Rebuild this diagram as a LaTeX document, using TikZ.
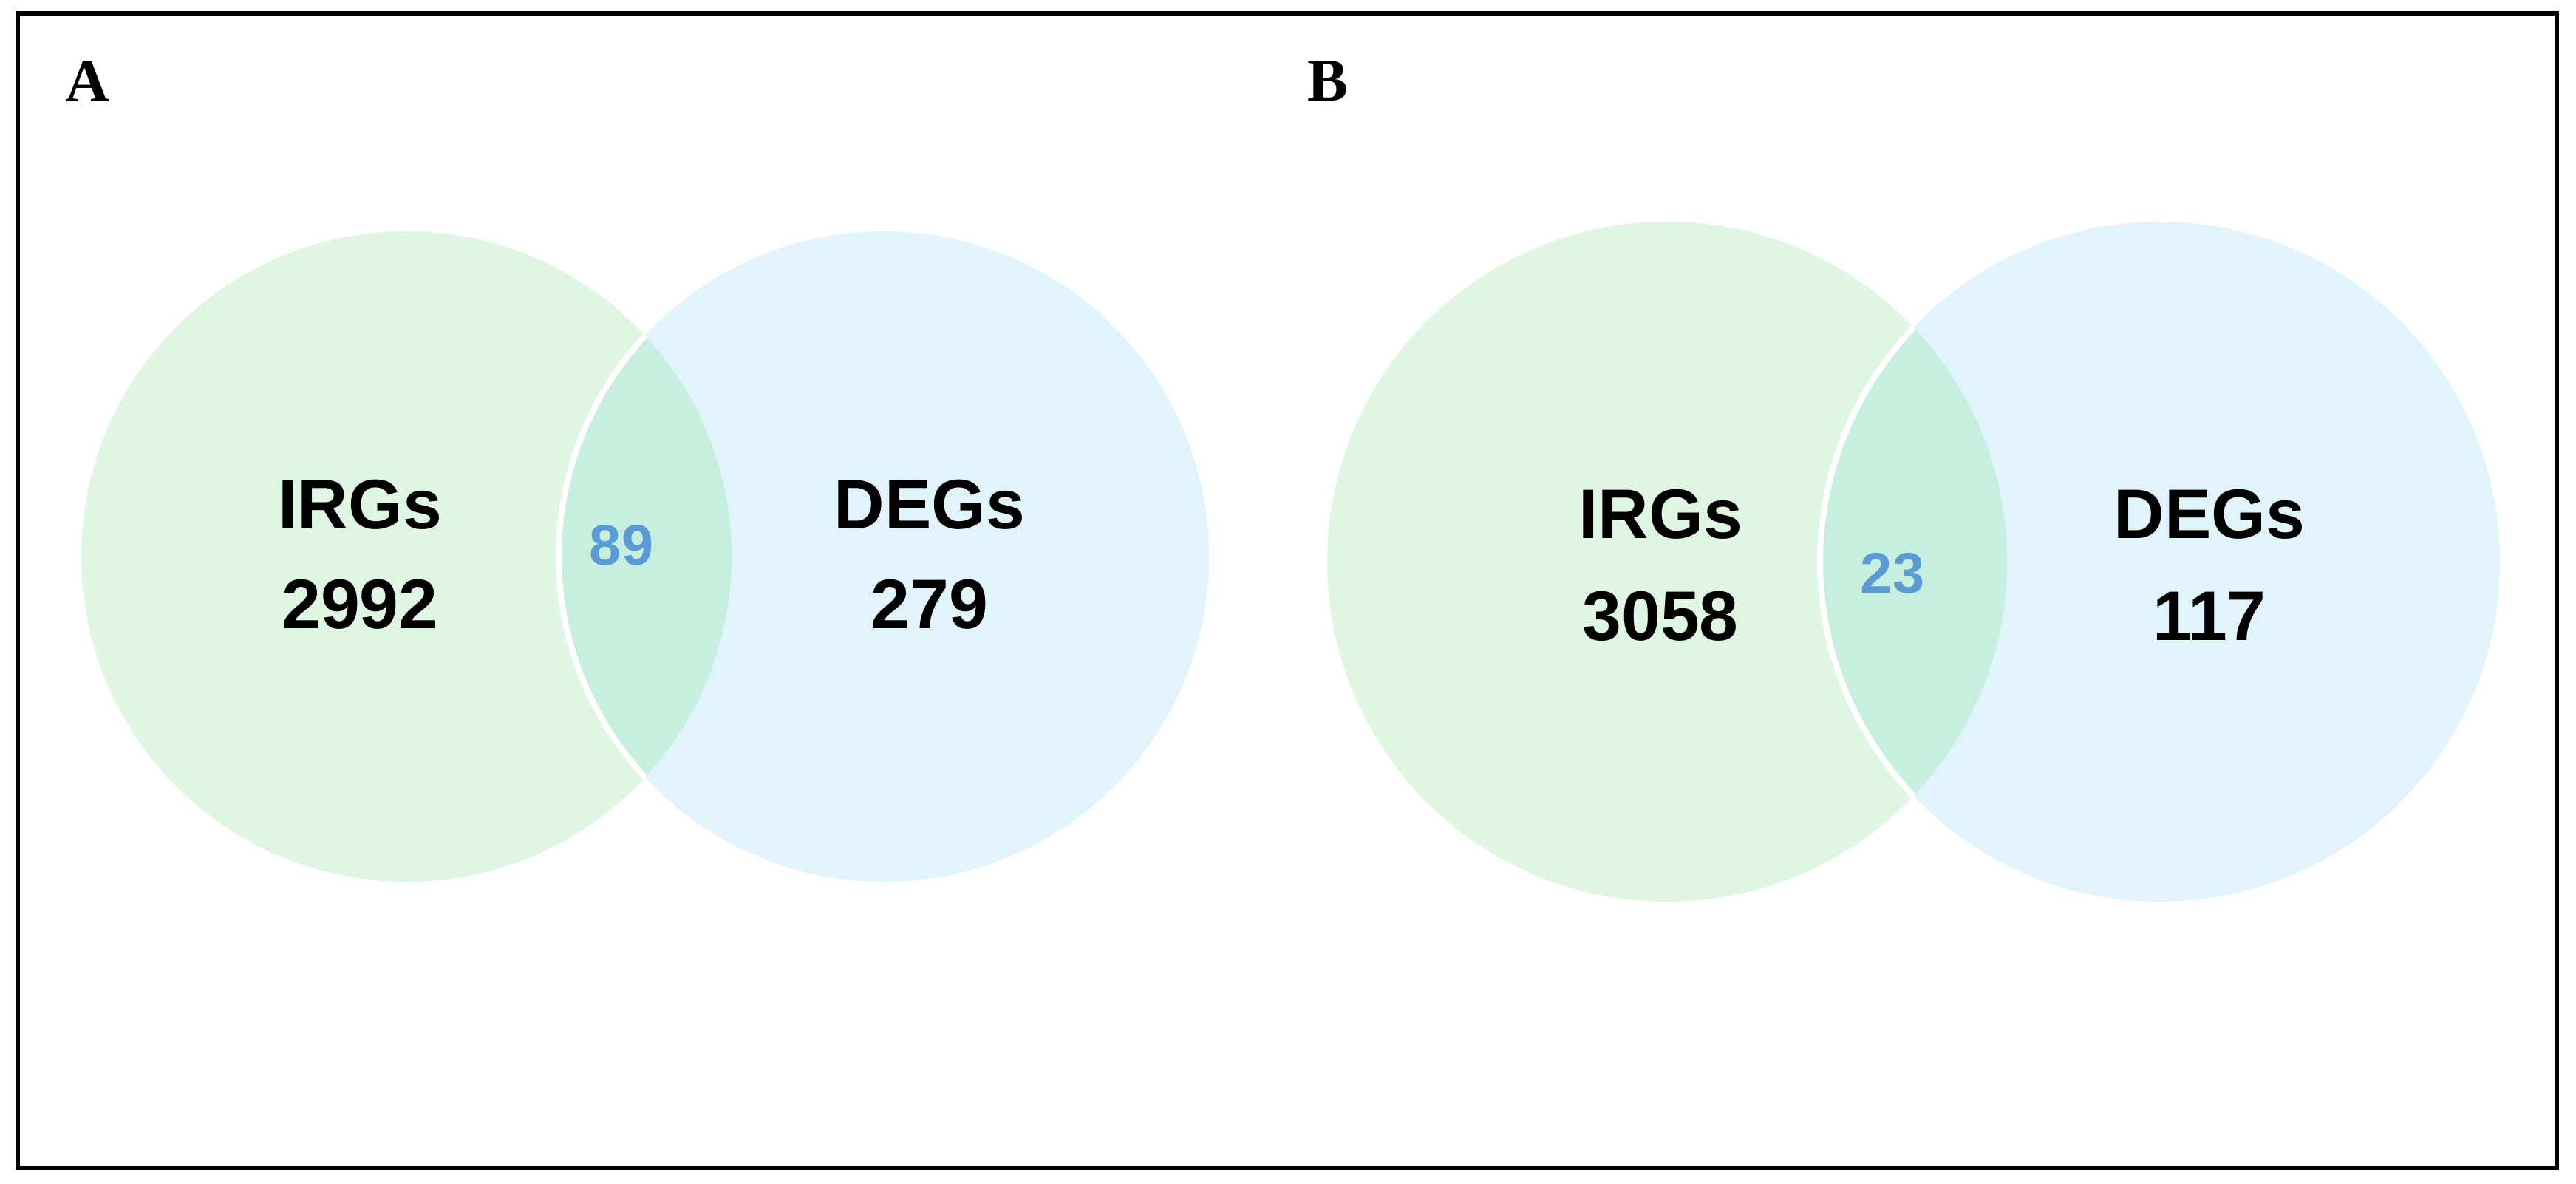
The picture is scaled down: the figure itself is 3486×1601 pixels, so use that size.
\documentclass[tikz,border=0pt]{standalone}
\usepackage{fontspec}
\setmainfont{Liberation Serif}
\newfontfamily\arialf{Liberation Sans}
\definecolor{gfill}{HTML}{DFF6E3}
\definecolor{bfill}{HTML}{E1F4FB}
\definecolor{lfill}{HTML}{C6EFE0}
\definecolor{numblue}{HTML}{5B9BD5}
\tikzset{
  panellabel/.style={font=\bfseries\fontsize{16.5}{18}\selectfont, inner sep=0pt},
  setlabel/.style={font=\arialf\bfseries\fontsize{19}{22}\selectfont, inner sep=0pt, align=center},
  lenslabel/.style={font=\arialf\bfseries\fontsize{15.5}{18}\selectfont, text=numblue, inner sep=0pt},
  frame/.style={draw=black, line width=1.2pt}
}
\begin{document}
\begin{tikzpicture}[x=0.2pt,y=-0.2pt]
\useasboundingbox (0,0) rectangle (3486,1601);
\fill[white] (0,0) rectangle (3486,1601);
\draw[frame] (24,18) rectangle (3460,1580);

% Panel A
\fill[gfill] (550,753) circle[radius=88pt];
\fill[bfill] (1196,753) circle[radius=88pt];
\begin{scope}
  \clip (550,753) circle[radius=88pt];
  \fill[lfill] (1196,753) circle[radius=88pt];
  \draw[white, line width=1.6pt] (1196,753) circle[radius=88pt];
\end{scope}

% Panel B
\fill[gfill] (2256,760) circle[radius=92pt];
\fill[bfill] (2923,760) circle[radius=92pt];
\begin{scope}
  \clip (2256,760) circle[radius=92pt];
  \fill[lfill] (2923,760) circle[radius=92pt];
  \draw[white, line width=1.6pt] (2923,760) circle[radius=92pt];
\end{scope}

\node[panellabel] (labA) at (118,110) {A};
\node[panellabel] (labB) at (1797,110) {B};

\node[setlabel] (irgA) at (487,683) {IRGs};
\node[setlabel] (nirgA) at (487,818) {2992};
\node[lenslabel] (lensA) at (841,738) {89};
\node[setlabel] (degA) at (1258,683) {DEGs};
\node[setlabel] (ndegA) at (1258,818) {279};

\node[setlabel] (irgB) at (2247,696) {IRGs};
\node[setlabel] (nirgB) at (2247,834) {3058};
\node[lenslabel] (lensB) at (2561,776) {23};
\node[setlabel] (degB) at (2990,696) {DEGs};
\node[setlabel] (ndegB) at (2990,834) {117};
\end{tikzpicture}
\end{document}
